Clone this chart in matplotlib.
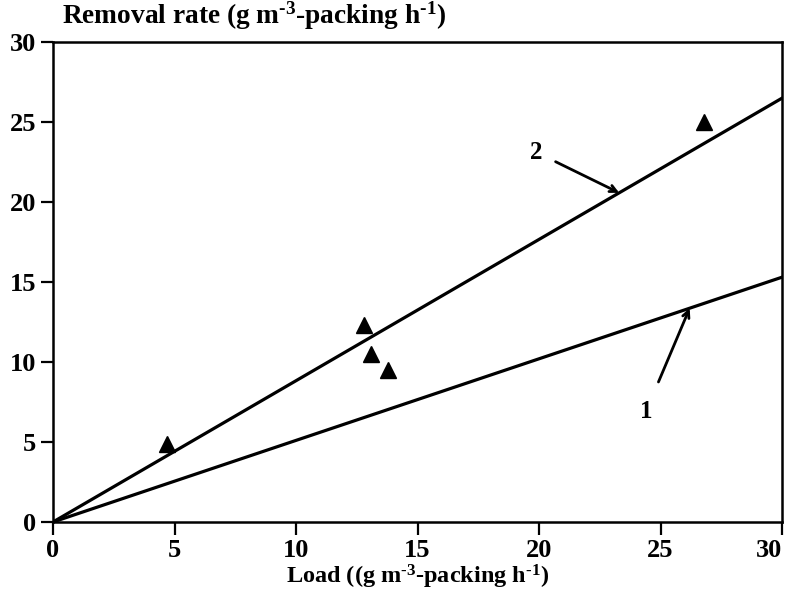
import numpy as np
import matplotlib.pyplot as plt

plt.rcParams['font.family'] = ['Liberation Serif', 'DejaVu Serif']
plt.rcParams['font.weight'] = 'bold'
plt.rcParams['mathtext.fontset'] = 'custom'
plt.rcParams['mathtext.rm'] = 'Liberation Serif:bold'
plt.rcParams['mathtext.default'] = 'rm'

# measured points: load vs removal rate
load = [4.7, 12.8, 13.1, 13.8, 26.8]
removal = [4.9, 12.3, 10.5, 9.5, 25.0]

# fitted lines through the origin
line_x = [0, 30]
slope_1 = 0.51
slope_2 = 0.883

ticks = [0, 5, 10, 15, 20, 25, 30]

fig = plt.figure(figsize=(7.88, 6), dpi=100)
ax = fig.add_axes([53 / 788, 78 / 600, 729 / 788, 480 / 600])

ax.plot(line_x, [slope_2 * x for x in line_x], color='black', lw=2.3)
ax.plot(line_x, [slope_1 * x for x in line_x], color='black', lw=2.3)
ax.plot(load, removal, linestyle='none', marker='^', ms=12, color='black')

ax.annotate('2', xy=(23.3, slope_2 * 23.3), xytext=(19.9, 23.1),
            fontsize=18, fontweight='bold', ha='center', va='center',
            arrowprops=dict(arrowstyle='->', lw=2, color='black',
                            shrinkA=8, shrinkB=0, mutation_scale=12))
ax.annotate('1', xy=(26.2, slope_1 * 26.2), xytext=(24.4, 6.9),
            fontsize=18, fontweight='bold', ha='center', va='center',
            arrowprops=dict(arrowstyle='->', lw=2, color='black',
                            shrinkA=12, shrinkB=0, mutation_scale=12))

ax.set_xlim(0, 30)
ax.set_ylim(0, 30)
ax.set_xticks(ticks)
ax.set_yticks(ticks)
ax.tick_params(direction='out', length=9, width=1.6, labelsize=19, pad=3)
for lab in ax.get_xticklabels() + ax.get_yticklabels():
    lab.set_fontweight('bold')
# keep the last x label inside the figure
ax.get_xticklabels()[-1].set_ha('right')
ax.get_xticklabels()[-1].set_x(30)
for s in ax.spines.values():
    s.set_linewidth(1.8)

ax.set_xlabel(r'Load ((g m$^{\text{-3}}$-packing h$^{\text{-1}}$)', fontsize=17.5,
              fontweight='bold', labelpad=1)
fig.text(62 / 788, 1 - 24 / 600,
         r'Removal rate (g m$^{\text{-3}}$-packing h$^{\text{-1}}$)',
         fontsize=19.7, fontweight='bold', ha='left', va='baseline')

fig.savefig('out.png', dpi=100)
